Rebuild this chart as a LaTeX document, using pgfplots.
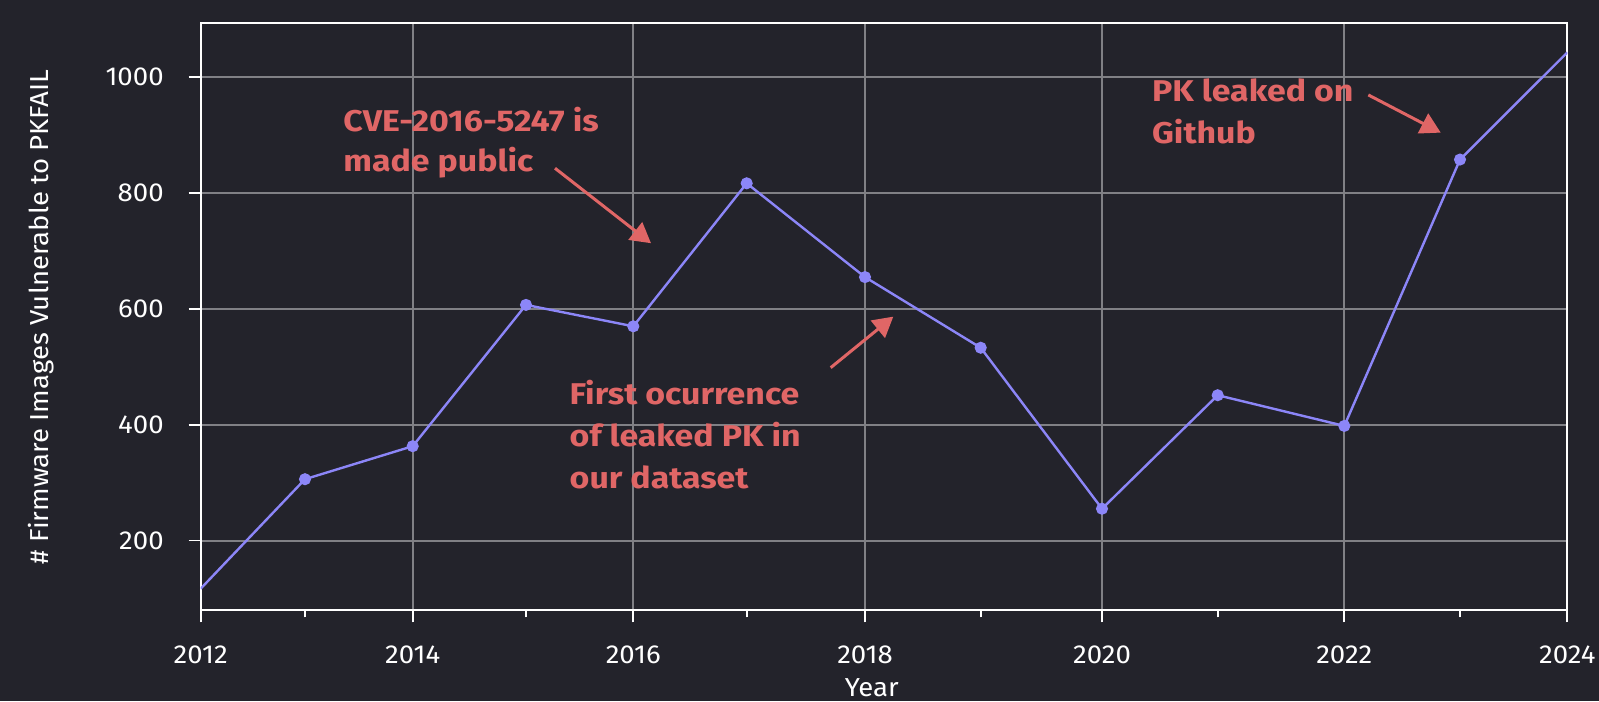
\documentclass[border=0pt]{standalone}
\usepackage{fontspec}
\setmainfont{Fira Sans}[FakeStretch=1.06]
\newfontfamily\annofont{Fira Sans}[FakeStretch=1.13]
\usepackage{pgfplots}
\pgfplotsset{compat=1.18}
\usepackage{pgfplotstable}
\usetikzlibrary{arrows.meta}
\definecolor{bg}{RGB}{35,35,43}
\definecolor{lav}{RGB}{140,134,248}
\definecolor{anno}{RGB}{224,102,102}
\definecolor{gridc}{RGB}{128,128,133}

% year, position on the (irregular) x scale of the reference, value
\pgfplotstableread{
year pos val
2012 200.7 117
2013 305.0 306
2014 412.7 363
2015 526.0 607
2016 633.3 570
2017 746.7 817
2018 865.0 655
2019 980.7 533
2020 1102.0 255
2021 1217.7 451
2022 1344.3 398
2023 1460.0 858
2024 1567.3 1043
}\datatable

\begin{document}
\begin{tikzpicture}
\fill[bg] (-100.35pt,-45.35pt) rectangle (699.15pt,305.15pt);
\begin{axis}[
  scale only axis,
  width=683.3pt, height=293.5pt,
  xmin=200.7, xmax=1567.3, ymin=79.6, ymax=1093.3,
  axis background/.style={fill=bg},
  axis line style={white, line width=0.85pt},
  xtick={200.7,412.7,633.3,865,1102,1344.3,1567.3},
  xticklabels={2012,2014,2016,2018,2020,2022,2024},
  minor xtick={305,526,746.7,980.7,1217.7,1460},
  ytick={200,400,600,800,1000},
  tick align=outside, tick pos=left,
  major tick length=6pt, minor tick length=3.5pt,
  every tick/.style={white, line width=0.85pt},
  every minor tick/.style={white, line width=0.85pt},
  grid=major,
  major grid style={gridc, line width=1pt},
  /pgf/number format/1000 sep={},
  /pgf/number format/assume math mode=true,
  xticklabel style={font=\fontsize{13}{15}\selectfont, text=white, anchor=north, yshift=-8.2pt},
  yticklabel style={font=\fontsize{13}{15}\selectfont, text=white, anchor=east, xshift=-9pt},
  xlabel={Year},
  ylabel={\# Firmware Images Vulnerable to PKFAIL},
  xlabel style={font=\fontsize{13}{15}\selectfont, text=white, at={(axis description cs:0.491,0)}, anchor=north, yshift=-30.5pt},
  ylabel style={font=\fontsize{13}{15}\selectfont, text=white, at={(axis description cs:-0.1169,0.5)}, anchor=center},
]
\addplot[lav, line width=1.2pt, mark=*, mark size=2.4pt, mark indices={2,...,12}, mark options={fill=lav, draw=lav}] table[x=pos, y=val] {\datatable};

\draw[anno, line width=1.5pt, -{Triangle[length=10pt,width=11pt]}] (axis cs:555,843) -- (axis cs:651,713.5);
\draw[anno, line width=1.5pt, -{Triangle[length=10pt,width=11pt]}] (axis cs:830.7,498.6) -- (axis cs:893.3,586.7);
\draw[anno, line width=1.5pt, -{Triangle[length=10pt,width=11pt]}] (axis cs:1368.3,969.6) -- (axis cs:1440.7,904.5);

\begin{scope}[every node/.style={anno, inner sep=0pt, anchor=base west, font=\annofont\fontsize{15}{18}\selectfont\bfseries}]
\node at (axis cs:343,906.2) {CVE-2016-5247 is};
\node at (axis cs:343,837.1) {made public};
\node at (axis cs:1151.7,958.0) {PK leaked on};
\node at (axis cs:1151.7,885.0) {Github};
\node at (axis cs:569.3,434.2) {First ocurrence};
\node at (axis cs:569.3,362.2) {of leaked PK in};
\node at (axis cs:569.3,290.8) {our dataset};
\end{scope}
\end{axis}
\pgfresetboundingbox
\path[use as bounding box] (-100.35pt,-45.35pt) rectangle (699.15pt,305.15pt);
\end{tikzpicture}
\end{document}
